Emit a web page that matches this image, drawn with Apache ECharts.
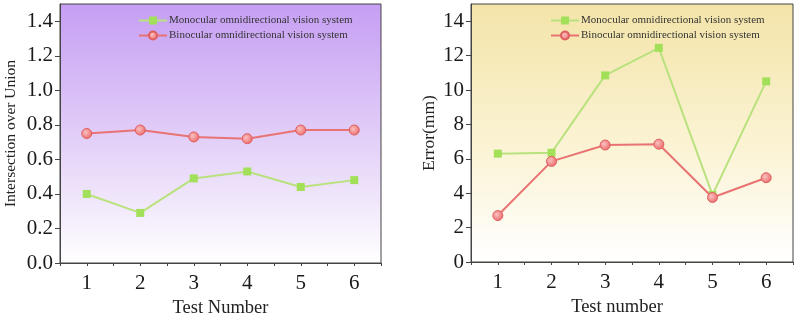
<!DOCTYPE html>
<html>
<head>
<meta charset="utf-8">
<script src="https://cdn.jsdelivr.net/npm/echarts@6/dist/echarts.min.js"></script>
<style>
  html, body { margin: 0; padding: 0; background: #fff; }
  #main { width: 796px; height: 317px; }
</style>
</head>
<body>
<div id="main"></div>
<script>
const tests = ['1', '2', '3', '4', '5', '6']
const monoIou = [0.40, 0.29, 0.49, 0.53, 0.44, 0.48]
const binoIou = [0.75, 0.77, 0.73, 0.72, 0.77, 0.77]
const monoErr = [6.3, 6.35, 10.85, 12.45, 3.9, 10.5]
const binoErr = [2.7, 5.85, 6.8, 6.85, 3.75, 4.9]

const monoName = 'Monocular omnidirectional vision system'
const binoName = 'Binocular omnidirectional vision system'
const font = 'Liberation Serif'
const axisColor = '#444'

function grad(top, mid) {
  return new echarts.graphic.LinearGradient(0, 0, 0, 1, [
    { offset: 0, color: top },
    { offset: 0.55, color: mid },
    { offset: 1, color: '#ffffff' }
  ])
}

// category axis with the labels + a value axis just for the minor ticks
function xAxes(gridIndex, name, pad) {
  return [{
    type: 'category', gridIndex, data: tests, boundaryGap: true,
    name, nameLocation: 'middle', nameGap: 32,
    nameTextStyle: { fontFamily: font, fontSize: 18.5, color: '#222', padding: pad },
    axisLine: { lineStyle: { color: axisColor, width: 1 } },
    axisTick: { alignWithLabel: true, length: 6, lineStyle: { color: axisColor } },
    axisLabel: { fontFamily: font, fontSize: 21, color: '#1a1a1a', margin: 10 },
    splitLine: { show: false }
  }, {
    type: 'value', gridIndex, min: 0.5, max: 6.5, interval: 0.5, position: 'bottom',
    axisLine: { show: false },
    axisTick: { show: true, length: 3, lineStyle: { color: axisColor } },
    axisLabel: { show: false },
    splitLine: { show: false }
  }]
}

function yAxis(gridIndex, name, max, interval, fmt, gap, size) {
  return {
    type: 'value', gridIndex, min: 0, max, interval,
    name, nameLocation: 'middle', nameGap: gap,
    nameTextStyle: { fontFamily: font, fontSize: size, color: '#222' },
    axisLine: { show: true, lineStyle: { color: axisColor } },
    axisTick: { show: true, length: 5, lineStyle: { color: axisColor } },
    axisLabel: { fontFamily: font, fontSize: 21, color: '#1a1a1a', formatter: fmt, showMaxLabel: false, margin: 7 },
    splitLine: { show: false }
  }
}

function monoSeries(idx, data) {
  return {
    name: monoName, type: 'line', xAxisIndex: idx, yAxisIndex: idx / 2, data,
    symbol: 'rect', symbolSize: 8,
    lineStyle: { color: '#b9e27e', width: 2 },
    itemStyle: { color: '#a3e05a' },
    z: 3
  }
}

function binoSeries(idx, data) {
  return {
    name: binoName, type: 'line', xAxisIndex: idx, yAxisIndex: idx / 2, data,
    symbol: 'circle', symbolSize: 10,
    lineStyle: { color: '#e97373', width: 2 },
    itemStyle: {
      color: new echarts.graphic.RadialGradient(0.4, 0.4, 0.6, [
        { offset: 0, color: '#fbc0c0' },
        { offset: 1, color: '#ec6c6c' }
      ]),
      borderColor: '#de5f5f', borderWidth: 1
    },
    z: 4
  }
}

function legend(left) {
  return {
    left, top: 10, orient: 'vertical', itemGap: 4, itemWidth: 28, itemHeight: 10,
    textStyle: { fontFamily: font, fontSize: 11, color: '#333', padding: [0, 0, 0, -3] },
    data: [monoName, binoName]
  }
}

const chart = echarts.init(document.getElementById('main'))
chart.setOption({
  animation: false,
  backgroundColor: '#fff',
  grid: [
    { left: 60, right: 415, top: 4, bottom: 54, outerBoundsMode: 'none', show: true, borderColor: axisColor, borderWidth: 1, backgroundColor: grad('#c69ef3', '#e4d2f8') },
    { left: 471, right: 3, top: 4, bottom: 55, outerBoundsMode: 'none', show: true, borderColor: axisColor, borderWidth: 1, backgroundColor: grad('#f3e4a8', '#fbf3d4') }
  ],
  legend: [legend(133), legend(545)],
  xAxis: [...xAxes(0, 'Test Number', [0, 0, 0, 0]), ...xAxes(1, 'Test number', [0, 30, 0, 0])],
  yAxis: [
    yAxis(0, 'Intersection over Union', 1.5, 0.2, v => v.toFixed(1), 41, 15.5),
    yAxis(1, 'Error(mm)', 15, 2, v => String(v), 33, 17.5)
  ],
  series: [
    monoSeries(0, monoIou), binoSeries(0, binoIou),
    monoSeries(2, monoErr), binoSeries(2, binoErr)
  ]
})
</script>
</body>
</html>
